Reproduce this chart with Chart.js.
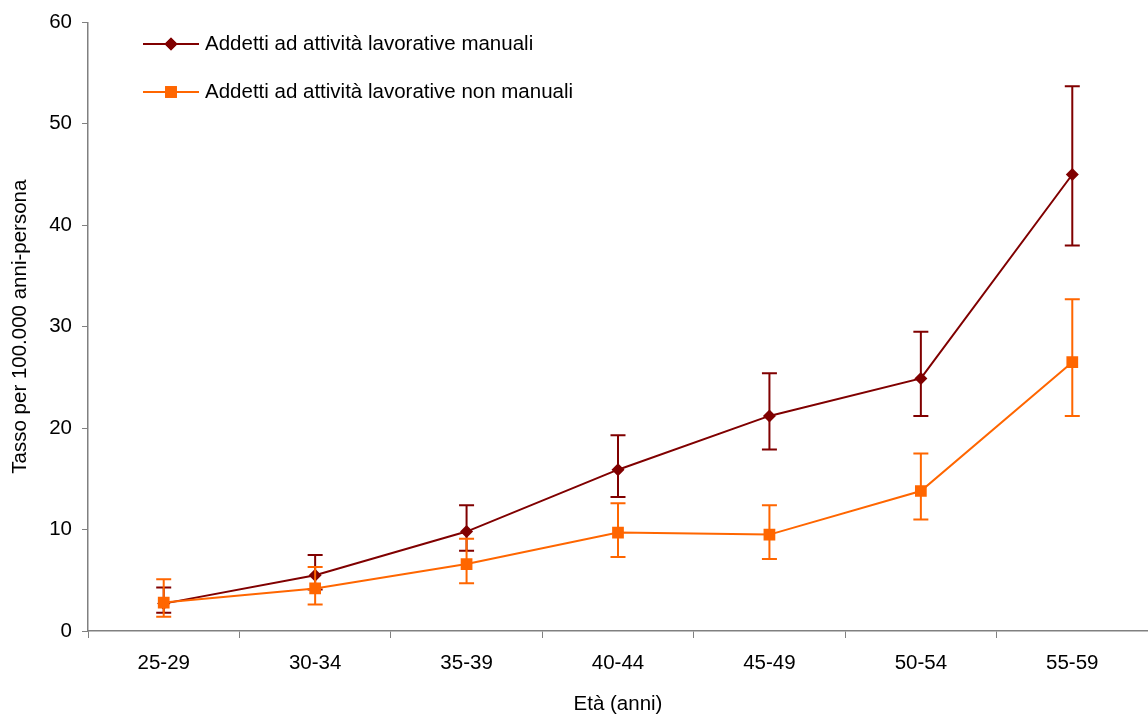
<!DOCTYPE html>
<html>
<head>
<meta charset="utf-8">
<script src="https://cdn.jsdelivr.net/npm/chart.js@4/dist/chart.umd.min.js"></script>
<style>
  html, body { margin: 0; padding: 0; background: #fff; overflow: hidden; }
  canvas { display: block; }
</style>
</head>
<body>
<canvas id="chart" width="1148" height="717"></canvas>
<script>
const ageGroups = ["25-29", "30-34", "35-39", "40-44", "45-49", "50-54", "55-59"];

const manualRate = [2.7, 5.5, 9.8, 15.9, 21.2, 24.9, 45.0];
const manualLow = [1.8, 4.1, 7.9, 13.2, 17.9, 21.2, 38.0];
const manualHigh = [4.3, 7.5, 12.4, 19.3, 25.4, 29.5, 53.7];

const nonManualRate = [2.8, 4.2, 6.6, 9.7, 9.5, 13.8, 26.5];
const nonManualLow = [1.4, 2.6, 4.7, 7.3, 7.1, 11.0, 21.2];
const nonManualHigh = [5.1, 6.3, 9.1, 12.6, 12.4, 17.5, 32.7];

const FONT = "'Liberation Sans', Arial, sans-serif";
const FONT_SIZE = 20.5;
const axisGray = "#808080";

// error bars, drawn right after each dataset so the layering follows it
const errorBars = {
  id: "errorBars",
  afterDatasetDraw(chart, args) {
    const ds = chart.data.datasets[args.index];
    if (!ds.errLow) return;
    const x = chart.scales.x;
    const y = chart.scales.y;
    const ctx = chart.ctx;
    ctx.save();
    ctx.strokeStyle = ds.borderColor;
    ctx.lineWidth = 2;
    ds.data.forEach((v, i) => {
      const px = x.getPixelForValue(i);
      const top = y.getPixelForValue(ds.errHigh[i]);
      const bot = y.getPixelForValue(ds.errLow[i]);
      ctx.beginPath();
      ctx.moveTo(px, top);
      ctx.lineTo(px, bot);
      ctx.moveTo(px - 7.5, top);
      ctx.lineTo(px + 7.5, top);
      ctx.moveTo(px - 7.5, bot);
      ctx.lineTo(px + 7.5, bot);
      ctx.stroke();
    });
    ctx.restore();
  },
};

// legend inside the plot, line + marker + label
const insideLegend = {
  id: "insideLegend",
  afterDraw(chart) {
    const ctx = chart.ctx;
    const rows = [chart.data.datasets[0], chart.data.datasets[1]];
    ctx.save();
    rows.forEach((ds, i) => {
      const yy = 44 + i * 48;
      ctx.strokeStyle = ds.borderColor;
      ctx.lineWidth = 2;
      ctx.beginPath();
      ctx.moveTo(143, yy);
      ctx.lineTo(199, yy);
      ctx.stroke();
      ctx.fillStyle = ds.pointBackgroundColor;
      Chart.helpers.drawPoint(ctx, {
        pointStyle: ds.pointStyle,
        radius: ds.pointRadius,
        rotation: 0,
        borderWidth: 0,
      }, 171, yy);
      ctx.fill();
      ctx.fillStyle = "#000";
      ctx.font = FONT_SIZE + "px " + FONT;
      ctx.textBaseline = "middle";
      ctx.textAlign = "left";
      ctx.fillText(ds.label, 205, yy);
    });
    ctx.restore();
  },
};

new Chart(document.getElementById("chart"), {
  type: "line",
  data: {
    labels: ageGroups,
    datasets: [
      {
        label: "Addetti ad attività lavorative manuali",
        data: manualRate,
        errLow: manualLow,
        errHigh: manualHigh,
        borderColor: "#800000",
        backgroundColor: "#800000",
        pointBackgroundColor: "#800000",
        pointBorderWidth: 0,
        pointStyle: "rectRot",
        pointRadius: 6.5,
        borderWidth: 2,
        order: 2,
      },
      {
        label: "Addetti ad attività lavorative non manuali",
        data: nonManualRate,
        errLow: nonManualLow,
        errHigh: nonManualHigh,
        borderColor: "#FF6600",
        backgroundColor: "#FF6600",
        pointBackgroundColor: "#FF6600",
        pointBorderWidth: 0,
        pointStyle: "rect",
        pointRadius: 8.3,
        borderWidth: 2,
        order: 1,
      },
    ],
  },
  options: {
    responsive: false,
    animation: false,
    layout: {
      autoPadding: false,
      padding: { top: 22, right: 0, left: 0, bottom: 0 },
    },
    plugins: {
      legend: { display: false },
      tooltip: { enabled: false },
    },
    scales: {
      x: {
        offset: true,
        grid: {
          offset: true,
          drawOnChartArea: false,
          drawTicks: true,
          tickLength: 7,
          color: axisGray,
          lineWidth: 1,
        },
        border: { display: true, color: axisGray, width: 1.5 },
        ticks: {
          color: "#000",
          font: { family: FONT, size: FONT_SIZE },
          padding: 13,
          maxRotation: 0,
        },
        title: {
          display: true,
          text: "Età (anni)",
          color: "#000",
          font: { family: FONT, size: FONT_SIZE },
          padding: { top: 0, bottom: 0 },
        },
        afterFit(scale) {
          scale.height = 86;
        },
      },
      y: {
        min: 0,
        max: 60,
        ticks: {
          stepSize: 10,
          color: "#000",
          font: { family: FONT, size: FONT_SIZE },
          padding: 10,
        },
        grid: {
          drawOnChartArea: false,
          drawTicks: true,
          tickLength: 6,
          color: axisGray,
          lineWidth: 1,
        },
        border: { display: true, color: axisGray, width: 1.5 },
        title: {
          display: true,
          text: "Tasso per 100.000 anni-persona",
          color: "#000",
          font: { family: FONT, size: FONT_SIZE },
          padding: { top: 8, bottom: 0 },
        },
        afterFit(scale) {
          scale.width = 88;
        },
      },
    },
  },
  plugins: [errorBars, insideLegend],
});
</script>
</body>
</html>
